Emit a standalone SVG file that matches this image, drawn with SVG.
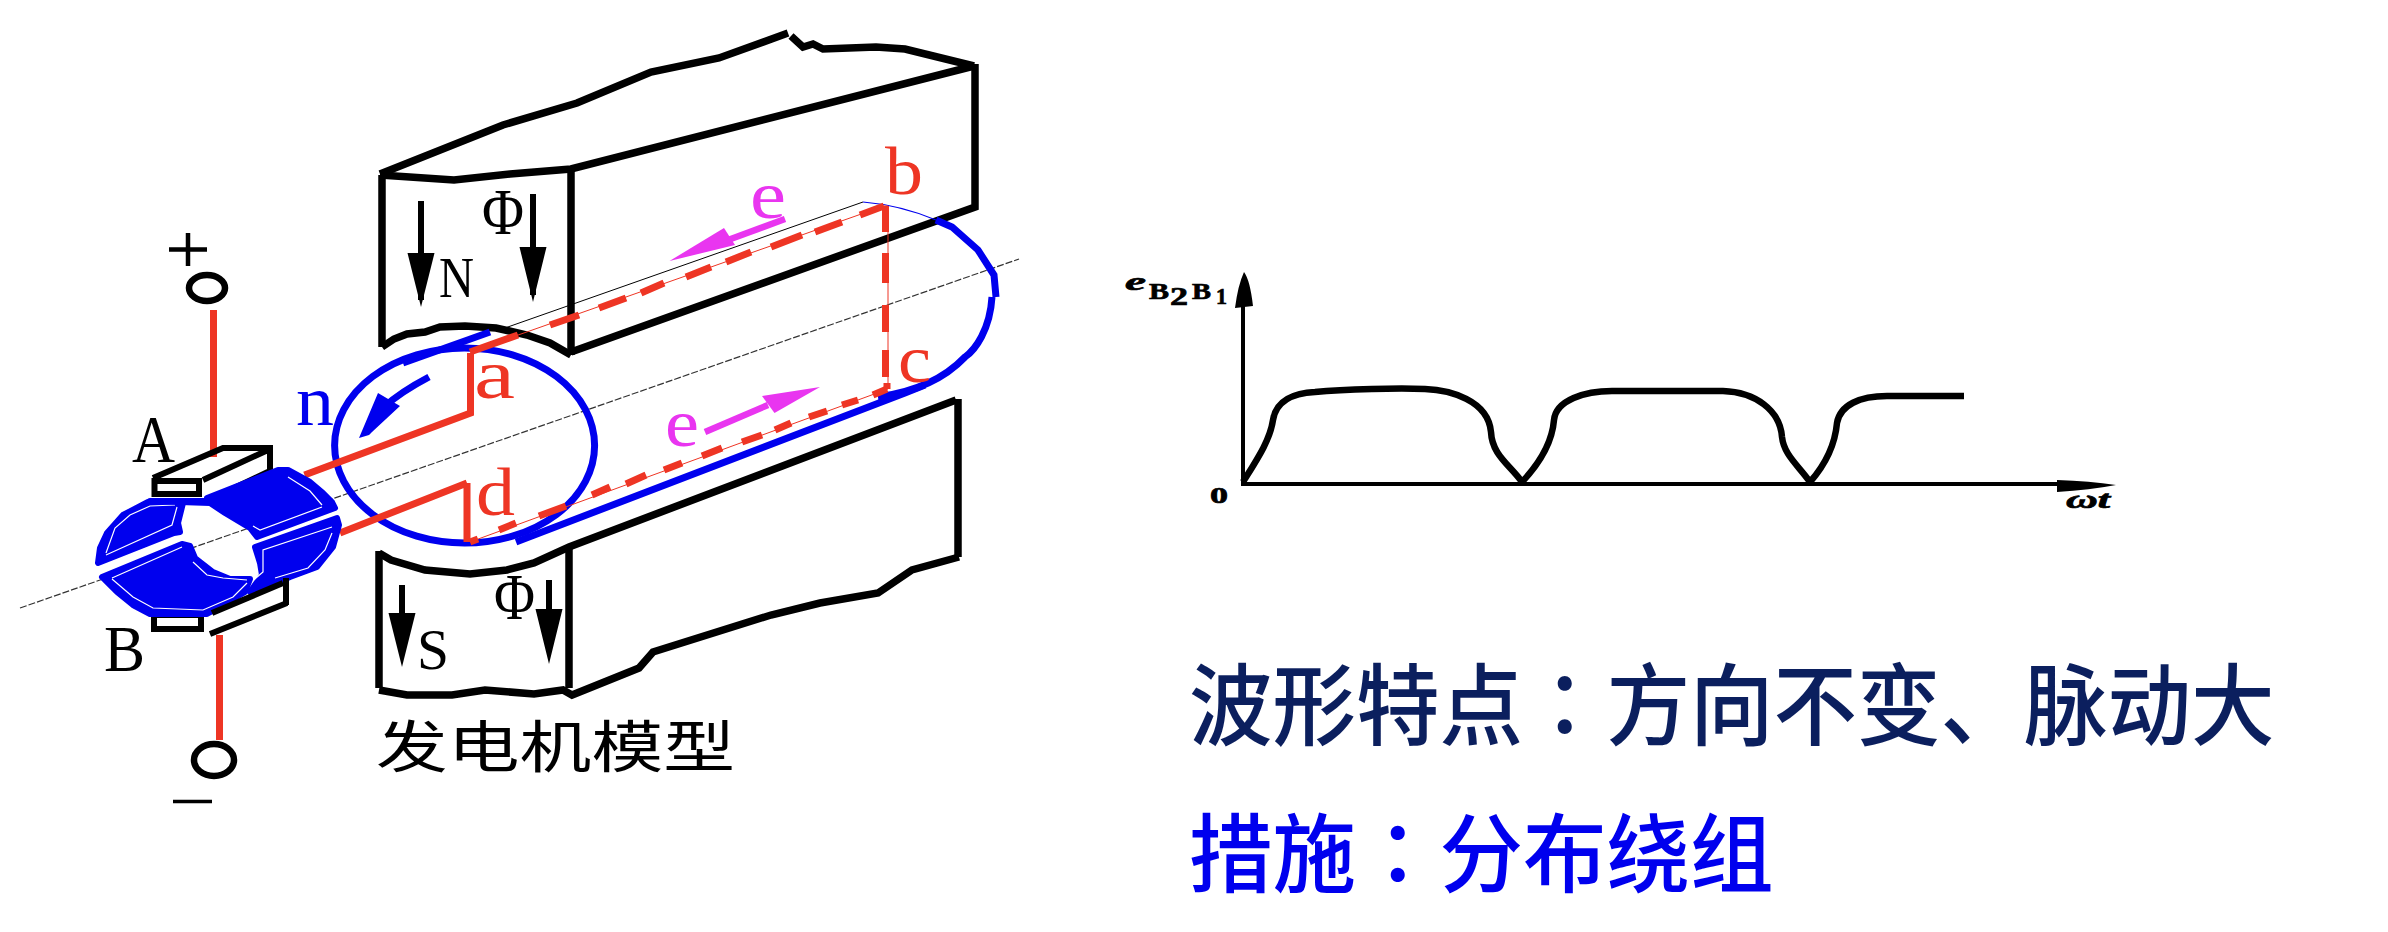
<svg xmlns="http://www.w3.org/2000/svg" width="2388" height="932" viewBox="0 0 2388 932">
<style>
.blk{fill:none;stroke:#000;stroke-width:7.5;stroke-linejoin:miter}
.fill{fill:#000;stroke:none}
.red{fill:none;stroke:#ee3524;stroke-width:7}
.redt{fill:none;stroke:#ee3524;stroke-width:1}
.blu{fill:none;stroke:#0000ee;stroke-width:7}
.seg{fill:#0000ee;stroke:#0000ee;stroke-width:6;stroke-linejoin:round}
.wht{fill:none;stroke:#fff;stroke-width:1.2}
.mag{fill:#e935f0;stroke:none}
.magl{fill:none;stroke:#e935f0;stroke-width:6.5}
.t{font-family:"Liberation Serif",serif}
.r{fill:#ee3524}.m{fill:#e935f0}.b{fill:#0000ee}.k{fill:#000}
.cn{font-family:"Noto Sans CJK SC",sans-serif;font-size:83.5px;font-weight:500}
.tc{font-family:"Noto Sans CJK TC",sans-serif}
.ch{font-family:"Liberation Serif",serif;font-weight:bold;fill:#000;stroke:#000;stroke-width:.7}
</style>

<g id="axis"><line x1="20" y1="608" x2="1019" y2="259" stroke="#333" stroke-width="1.2" stroke-dasharray="7 2"/></g>

<g id="pole-north">
<path class="blk" d="M380,174 L503,125 L577,103 L651,72 L719,58 L788,33 M791,36 L803,47 L813,44 L823,49 L876,47 L905,49 L974,66"/>
<path class="blk" d="M975,64 V207 L571,352"/>
<path class="blk" d="M380,175 L454,180 L510,174 L571,169 L974,66"/>
<path class="blk" d="M571,169 V355 M382,175 V347"/>
<path class="blk" d="M382,347 L394,339 L407,334 L425,332 L440,327 L465,326 L496,328 L527,335 L550,343 L571,355"/>
<path class="blk" style="stroke-width:6" d="M421,201 V300 M533,194 V295"/>
<path class="fill" d="M407.500,253 H434.500 L421,307 Z M519.500,247 H546.500 L533,302 Z"/>
<text class="t k" x="439" y="297" font-size="56" textLength="35" lengthAdjust="spacingAndGlyphs">N</text>
<text class="t k" x="482" y="234" font-size="66" textLength="42" lengthAdjust="spacingAndGlyphs">Φ</text>
</g>

<g id="pole-south">
<path class="blk" d="M379,553 L391,560 L425,570 L470,574 L507,570 L534,563 L569,547 L956,400"/>
<path class="blk" d="M379,551 V688 M569,548 V688 M958,399 V557"/>
<path class="blk" d="M959,557 L912,570 L878,593 L820,603 L771,615 L653,652 L639,668 L572,695 L563,690 L534,694 L485,690 L452,695 L407,695 L379,690"/>
<path class="blk" style="stroke-width:6" d="M402,585 V650 M549,580 V650"/>
<path class="fill" d="M388.500,613 H415.500 L402,667 Z M535.500,609 H562.500 L549,664 Z"/>
<text class="t k" x="417" y="669" font-size="56" textLength="32" lengthAdjust="spacingAndGlyphs">S</text>
<text class="t k" x="494" y="619" font-size="66" textLength="41" lengthAdjust="spacingAndGlyphs">Φ</text>
</g>

<g id="armature">
<line x1="505" y1="328" x2="863" y2="202" stroke="#000" stroke-width="1"/>
<path d="M863,202 Q900,205 936,220" fill="none" stroke="#0000ee" stroke-width="1.2"/>
<ellipse class="blu" cx="464.600" cy="445.500" rx="130" ry="97.500"/>
<path class="blu" d="M490,332 L403,363"/>
<path class="blu" d="M936,220 L952,227 L978,250 L994,275 L996,297 M992,297 C990,330 975,350 965,357 C945,378 915,392 878,397"/>
<path class="blu" d="M516,542 L905,393 L925,385"/>
<path class="blu" d="M429,377 C410,387 395,397 384,407"/>
<path fill="#0000ee" d="M359,438 L378,393 L400,406 L372,432 L369,435 Z"/>
<text class="t b" x="296" y="425" font-size="72" textLength="38" lengthAdjust="spacingAndGlyphs">n</text>
</g>

<g id="coil">
<path class="redt" d="M470,352 L884,206 L888,206 L888,389 L470,542"/>
<path class="red" d="M470,352 L518,335 M550,325 L579,315 M599,308 L626,298 M641,293 L664,283 M686,277 L711,267 M726,262 L751,252 M771,247 L802,235 M815,232 L842,222 M860,215 L884,206"/>
<path class="red" d="M885.500,206 V232 M885.500,253 V283 M885.500,305 V332 M885.500,350 V377 M887,383 V389"/>
<path class="red" d="M887,389 L873,395 M858,400 L842,405 M827,411 L809,417 M791,423 L775,430 M762,435 L742,442 M722,448 L702,456 M682,463 L664,470 M646,475 L626,484 M610,487 L592,495 M566,506 L539,516 M516,523 L499,530 M478,539 L470,542"/>
<text class="t r" x="474" y="398" font-size="70" textLength="41" lengthAdjust="spacingAndGlyphs">a</text>
<text class="t r" x="885" y="194" font-size="68" textLength="38" lengthAdjust="spacingAndGlyphs">b</text>
<text class="t r" x="898" y="382" font-size="68" textLength="33" lengthAdjust="spacingAndGlyphs">c</text>
<text class="t r" x="476" y="515" font-size="68" textLength="39" lengthAdjust="spacingAndGlyphs">d</text>
</g>

<g id="emf-top">
<path class="magl" d="M785,219 L728,240"/>
<path class="mag" d="M669.500,261 L724,228 L735,245 Z"/>
<text class="t m" x="750" y="218" font-size="68" textLength="36" lengthAdjust="spacingAndGlyphs">e</text>
</g>
<g id="emf-bottom">
<path class="magl" d="M705,432 L768,405"/>
<path class="mag" d="M820,387 L762,396 L774.500,413 Z"/>
<text class="t m" x="665" y="446" font-size="68" textLength="34" lengthAdjust="spacingAndGlyphs">e</text>
</g>

<g id="connectors">
<path class="red" d="M470.500,353 V413 L304.500,475"/>
<path class="red" d="M467,483 V542 M467,483 L340,533"/>
<path class="red" d="M213.500,310 V457"/>
<path class="red" d="M219.500,635 V740"/>
</g>

<g id="brush-a">
<rect x="154.500" y="481" width="44.500" height="13" fill="none" stroke="#000" stroke-width="6"/>
<path class="blk" style="stroke-width:6" d="M153,478 L223,448 H270 V472 M203,480 L268,450 M209,500 L272,470"/>
<text class="t k" x="132" y="462" font-size="68" textLength="43" lengthAdjust="spacingAndGlyphs">A</text>
</g>

<g id="brush-b">
<rect x="154" y="615" width="47" height="14" fill="none" stroke="#000" stroke-width="6"/>
<text class="t k" x="104" y="671" font-size="66" textLength="41" lengthAdjust="spacingAndGlyphs">B</text>
</g>

<g id="commutator">
<path class="seg" d="M98,563 L100,548 L107,533 L123,515 L148,502 L183,503 L178,523 L180,532 L174,533 Z"/>
<path class="wht" d="M106,555 L172,525 L177,507 M106,553 L115,528 L130,515 L150,506 L175,505"/>
<path class="seg" d="M207,498 L278,470 L288,470 L310,482 L323,493 L332,502 L335,508 L257,537 L250,528 L225,513 L210,503 L150,501 L208,501 Z"/>
<path class="wht" d="M253,526 L260,530 L322,507 M288,477 L310,491 L322,505"/>
<path class="seg" d="M255,547 L337,518 L339,525 L333,547 L317,567 L290,577 L283,580 L250,592 L262,575 L260,563 Z"/>
<path class="wht" d="M250,583 L263,572 L263,550 L332,527 M332,533 L325,550 L308,568 L275,578"/>
<path class="seg" d="M102,577 L182,544 L190,546 L195,558 L213,572 L230,579 L250,579 L245,592 L223,605 L207,614 L150,614 L133,605 L117,592 Z"/>
<path class="wht" d="M112,578 L182,547 M112,579 L133,597 L153,608 L203,610 L233,597 L247,583 M193,562 L207,575 L223,578 L247,580"/>
<path class="blk" style="stroke-width:6" d="M212,613 L283,583 M286,578 V605 M210,634 L287,603"/>
</g>

<g id="terminal-plus">
<ellipse cx="207" cy="288" rx="18" ry="13" fill="none" stroke="#000" stroke-width="6.500"/>
<path d="M169,249.500 H207 M188,233 V266" fill="none" stroke="#000" stroke-width="4.500"/>
</g>
<g id="terminal-minus">
<ellipse cx="214" cy="760" rx="20" ry="16" fill="none" stroke="#000" stroke-width="6.500"/>
<path d="M173,801.500 H212" fill="none" stroke="#000" stroke-width="3.500"/>
</g>

<g id="model-caption">
<text class="k" x="376" y="767" font-family="Noto Sans CJK SC,sans-serif" font-size="56" font-weight="400" textLength="359" lengthAdjust="spacingAndGlyphs">发电机模型</text>
</g>

<g id="chart">
<path fill="none" stroke="#000" stroke-width="4" d="M1243,305 V484 H2060"/>
<path class="fill" d="M1244,272 Q1250,280 1253,306 L1235,308 Q1238,285 1244,272 Z M2057,480 Q2090,481 2116,485 Q2090,490 2057,492 Z"/>
<path fill="none" stroke="#000" stroke-width="6.500" stroke-linejoin="round" d="M1243,482 C1258,458 1270,440 1273,420 C1276,400 1295,393 1315,392 C1345,389 1400,388 1425,389 C1450,390 1488,400 1491,432 C1492,455 1510,465 1522,482 C1538,465 1552,445 1554,420 C1556,400 1585,391 1612,391 L1723,391 C1755,392 1780,410 1782,437 C1784,455 1798,465 1810,482 C1825,465 1835,445 1837,423 C1840,405 1860,396 1887,396 L1964,396"/>
<text class="ch" x="1125" y="290" font-size="26" font-style="italic" textLength="21" lengthAdjust="spacingAndGlyphs">e</text>
<text class="ch" x="1149" y="299" font-size="23" textLength="20" lengthAdjust="spacingAndGlyphs">B</text>
<text class="ch" x="1170" y="305" font-size="25" textLength="18" lengthAdjust="spacingAndGlyphs">2</text>
<text class="ch" x="1192" y="299" font-size="23" textLength="19" lengthAdjust="spacingAndGlyphs">B</text>
<text class="ch" x="1216" y="304" font-size="23" textLength="11" lengthAdjust="spacingAndGlyphs">1</text>
<text class="ch" x="1210" y="503" font-size="24" textLength="18" lengthAdjust="spacingAndGlyphs">0</text>
<text class="ch" x="2066" y="508" font-size="25" font-style="italic" textLength="44" lengthAdjust="spacingAndGlyphs">ωt</text>
</g>

<g id="note-shape"><text class="cn" transform="translate(1189,738) scale(1,1.06)" fill="#0b1f5e">波形特点<tspan class="tc">：</tspan>方向不变、脉动大</text></g>
<g id="note-measure"><text class="cn" transform="translate(1189,886) scale(1,1.03)" fill="#0000ee">措施<tspan class="tc">：</tspan>分布绕组</text></g>
</svg>
